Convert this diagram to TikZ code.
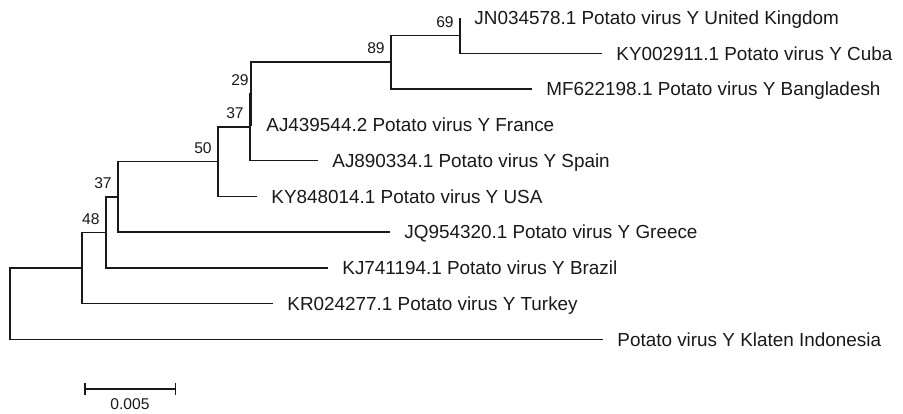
\documentclass[tikz,border=0pt]{standalone}
\usepackage{fontspec}
\setmainfont{Liberation Sans}
\usetikzlibrary{arrows.meta, positioning}

\begin{document}
\begin{tikzpicture}[
  x=0.5pt, y=-0.5pt,
  branch/.style={line width=0.75pt, color=black!90},
  leaf/.style={anchor=base west, inner sep=0pt, xshift=7pt, yshift=-3.4pt,
               font=\fontsize{9.45}{11}\selectfont, text=black!90},
  boot/.style={anchor=east, inner sep=0pt, xshift=-3pt, yshift=6.8pt,
               font=\fontsize{7.8}{9}\selectfont, text=black!90},
  scalebar/.style={line width=0.75pt, color=black!90,
                   {Bar[width=6pt]}-{Bar[width=6pt]}}
]
  \useasboundingbox (0,0) rectangle (903,413);

  % leaf tips
  \coordinate (uk)   at (460,17.5);
  \coordinate (cuba) at (602,53.25);
  \coordinate (bang) at (532,89);
  \coordinate (fra)  at (252,124.75);
  \coordinate (spa)  at (318,160.5);
  \coordinate (usa)  at (257,196.25);
  \coordinate (gre)  at (390,232);
  \coordinate (bra)  at (328,267.75);
  \coordinate (tur)  at (273,303.5);
  \coordinate (kla)  at (603,339.25);

  % inner nodes
  \coordinate (n69)  at (460,35.4);
  \coordinate (n89)  at (391,62.2);
  \coordinate (n29)  at (251,93.5);
  \coordinate (n37a) at (250,127);
  \coordinate (n50)  at (218,161.6);
  \coordinate (n37b) at (118,197);
  \coordinate (n48)  at (106,232.4);
  \coordinate (n0)   at (82,268);
  \coordinate (root) at (10,303.6);

  % branches
  \draw[branch] (uk)   -| (n69)  |- (cuba);
  \draw[branch] (n69)  -| (n89)  |- (bang);
  \draw[branch] (n89)  -| (n29)  |- (fra);
  \draw[branch] (n29)  -| (n37a) |- (spa);
  \draw[branch] (n37a) -| (n50)  |- (usa);
  \draw[branch] (n50)  -| (n37b) |- (gre);
  \draw[branch] (n37b) -| (n48)  |- (bra);
  \draw[branch] (n48)  -| (n0)   |- (tur);
  \draw[branch] (n0)   -| (root) |- (kla);

  % taxon labels
  \node[leaf] (ukl)   at (uk)   {JN034578.1 Potato virus Y United Kingdom};
  \node[leaf] (cubal) at (cuba) {KY002911.1 Potato virus Y Cuba};
  \node[leaf] (bangl) at (bang) {MF622198.1 Potato virus Y Bangladesh};
  \node[leaf] (fral)  at (fra)  {AJ439544.2 Potato virus Y France};
  \node[leaf] (spal)  at (spa)  {AJ890334.1 Potato virus Y Spain};
  \node[leaf] (usal)  at (usa)  {KY848014.1 Potato virus Y USA};
  \node[leaf] (grel)  at (gre)  {JQ954320.1 Potato virus Y Greece};
  \node[leaf] (bral)  at (bra)  {KJ741194.1 Potato virus Y Brazil};
  \node[leaf] (turl)  at (tur)  {KR024277.1 Potato virus Y Turkey};
  \node[leaf] (klal)  at (kla)  {Potato virus Y Klaten Indonesia};

  % bootstrap values
  \node[boot] (b69)  at (n69)  {69};
  \node[boot] (b89)  at (n89)  {89};
  \node[boot, xshift=2pt] (b29) at (n29) {29};
  \node[boot] (b37a) at (n37a) {37};
  \node[boot] (b50)  at (n50)  {50};
  \node[boot] (b37b) at (n37b) {37};
  \node[boot] (b48)  at (n48)  {48};

  % scale bar
  \coordinate (sbl) at (84,389);
  \coordinate (sbr) at (176,389);
  \draw[scalebar] (sbl) -- node[below=4.5pt, inner sep=0pt,
        font=\fontsize{7.8}{9}\selectfont] (sbv) {0.005} (sbr);
\end{tikzpicture}
\end{document}
